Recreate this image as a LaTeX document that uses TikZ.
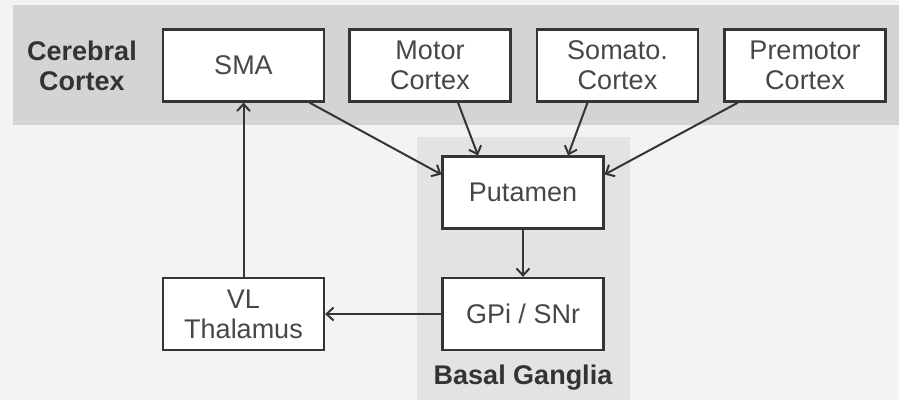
\documentclass[tikz,border=0pt]{standalone}
\usepackage{fontspec}
\setmainfont{Liberation Sans}
\usetikzlibrary{arrows.meta}
\definecolor{bgc}{HTML}{F3F3F3}
\definecolor{topband}{HTML}{D4D4D4}
\definecolor{bgband}{HTML}{E3E3E3}
\definecolor{linec}{HTML}{353535}
\definecolor{txtc}{HTML}{474747}
\begin{document}
\begin{tikzpicture}[x=1pt,y=-1pt,
  box/.style={draw=linec, line width=2.2pt, fill=white, text=txtc,
    font=\fontsize{27}{30}\selectfont, align=center, inner sep=0pt,
    minimum width=161pt, minimum height=72pt},
  lbl/.style={text=black!80, font=\fontsize{27}{30}\selectfont\bfseries, align=center, inner sep=0pt},
  conn/.style={draw=linec, line width=2pt, -{Straight Barb[length=7pt,width=13pt,line width=2pt]}}]
\useasboundingbox (0,0) rectangle (899,400);
\fill[bgc] (0,0) rectangle (899,400);
\fill[topband] (13,5) rectangle (899,125);
\fill[bgband] (417,137) rectangle (630,400);
\node[lbl] (cc) at (82,66) {Cerebral\\Cortex};
\node[lbl] (bg) at (523,378) {Basal Ganglia};
\node[box] (sma) at (243.5,65.5) {SMA};
\node[box] (mot) at (430,65.5) {Motor\\Cortex};
\node[box] (som) at (617.5,65.5) {Somato.\\Cortex};
\node[box] (pre) at (805,65.5) {Premotor\\Cortex};
\node[box] (put) at (523,192.5) {Putamen};
\node[box] (gpi) at (523,314) {GPi / SNr};
\node[box] (vl) at (243.5,314) {VL\\Thalamus};
\draw[conn] ([xshift=66pt]sma.south) -- ([yshift=18pt]put.west);
\draw[conn] ([xshift=28pt]mot.south) -- ([xshift=-45pt]put.north);
\draw[conn] ([xshift=-30pt]som.south) -- ([xshift=45pt]put.north);
\draw[conn] ([xshift=-67pt]pre.south) -- ([yshift=18pt]put.east);
\draw[conn] (put.south) -- (gpi.north);
\draw[conn] (gpi.west) -- (vl.east);
\draw[conn] (vl.north) -- (sma.south);
\end{tikzpicture}
\end{document}
